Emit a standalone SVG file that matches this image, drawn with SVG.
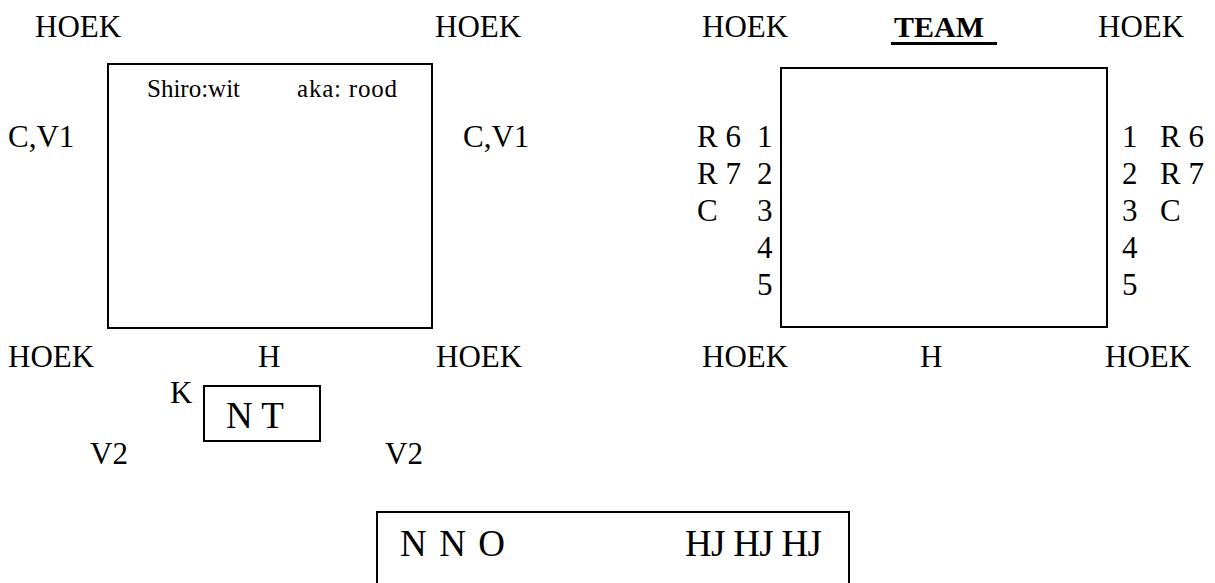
<svg xmlns="http://www.w3.org/2000/svg" width="1215" height="583" viewBox="0 0 1215 583">
<style>
text{font-family:"Liberation Serif","Times New Roman",serif;fill:#000}
.l{font-size:31px}
.s{font-size:25px}
.m{font-size:37px}
.b{font-size:30px;font-weight:bold}
.box{fill:none;stroke:#000;stroke-width:2}
</style>
<rect width="1215" height="583" fill="#fff"/>
<g id="connectors"></g>
<g id="field-left">
<rect class="box" x="108" y="64" width="324" height="264"/>
<text class="s" x="147" y="97">Shiro:wit</text>
<text class="s" x="297" y="97" textLength="100">aka: rood</text>
</g>
<g id="labels-left">
<text class="l" x="35" y="37">HOEK</text>
<text class="l" x="435" y="37">HOEK</text>
<text class="l" x="8" y="147">C,V1</text>
<text class="l" x="463" y="147">C,V1</text>
<text class="l" x="8" y="367">HOEK</text>
<text class="l" x="258" y="367">H</text>
<text class="l" x="436" y="367">HOEK</text>
<text class="l" x="170" y="403">K</text>
<text class="l" x="90" y="464">V2</text>
<text class="l" x="385" y="464">V2</text>
</g>
<g id="nt">
<rect class="box" x="204" y="386" width="116" height="55"/>
<text class="m" x="226" y="428">N T</text>
</g>
<g id="field-right">
<rect class="box" x="781" y="68" width="326" height="259"/>
</g>
<g id="labels-right">
<text class="l" x="702" y="37">HOEK</text>
<text class="b" x="894" y="37">TEAM</text>
<rect x="891" y="42" width="106" height="3"/>
<text class="l" x="1098" y="37">HOEK</text>
<text class="l" x="697" y="147">R 6</text>
<text class="l" x="697" y="184">R 7</text>
<text class="l" x="697" y="221">C</text>
<text class="l" x="757" y="147">1</text>
<text class="l" x="757" y="184">2</text>
<text class="l" x="757" y="221">3</text>
<text class="l" x="757" y="258">4</text>
<text class="l" x="757" y="295">5</text>
<text class="l" x="1122" y="147">1</text>
<text class="l" x="1122" y="184">2</text>
<text class="l" x="1122" y="221">3</text>
<text class="l" x="1122" y="258">4</text>
<text class="l" x="1122" y="295">5</text>
<text class="l" x="1160" y="147">R 6</text>
<text class="l" x="1160" y="184">R 7</text>
<text class="l" x="1160" y="221">C</text>
<text class="l" x="702" y="367">HOEK</text>
<text class="l" x="920" y="367">H</text>
<text class="l" x="1105" y="367">HOEK</text>
</g>
<g id="score">
<rect class="box" x="377" y="512" width="472" height="90"/>
<text class="m" x="400" y="556" textLength="105">N N O</text>
<text class="m" x="685" y="556" textLength="137">HJ HJ HJ</text>
</g>
</svg>
